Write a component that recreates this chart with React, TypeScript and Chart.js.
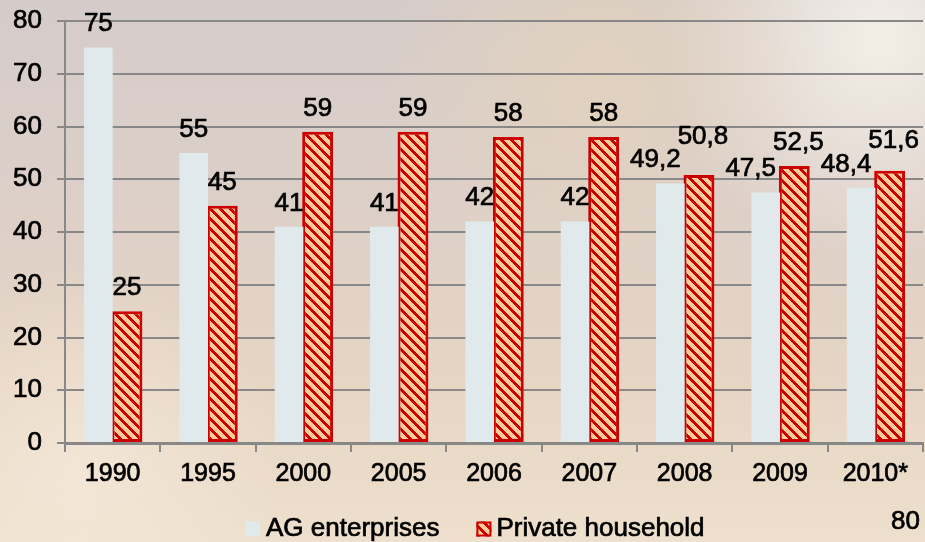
import React, { useEffect, useRef } from "react";
import { Chart, registerables } from "chart.js";

Chart.register(...registerables);

const categories = ["1990", "1995", "2000", "2005", "2006", "2007", "2008", "2009", "2010*"];
const agEnterprises = [75, 55, 41, 41, 42, 42, 49.2, 47.5, 48.4];
const privateHousehold = [25, 45, 59, 59, 58, 58, 50.8, 52.5, 51.6];
const seriesNames = ["AG enterprises", "Private household"];
const yMin = 0;
const yMax = 80;
const yStep = 10;
const slideNumber = "80";

const FONT = "'Liberation Sans', Arial, sans-serif";
const AG_COLOR = "#E0EAEC";
const RED = "#CC0000";
const PEACH = "#FFCC99";
const GRID = "#888888";
const STROKE = 0.7;

function makePattern(ctx: CanvasRenderingContext2D): CanvasPattern | string {
  const c = document.createElement("canvas");
  const n = 10;
  c.width = n;
  c.height = n;
  const pc = c.getContext("2d");
  if (!pc) return PEACH;
  const img = pc.createImageData(n, n);
  for (let y = 0; y < n; y++) {
    for (let x = 0; x < n; x++) {
      const k = (((x - y) % n) + n) % n;
      const red = k < 4;
      const idx = (y * n + x) * 4;
      img.data[idx] = red ? 204 : 255;
      img.data[idx + 1] = red ? 0 : 204;
      img.data[idx + 2] = red ? 0 : 153;
      img.data[idx + 3] = 255;
    }
  }
  pc.putImageData(img, 0, 0);
  return ctx.createPattern(c, "repeat") || PEACH;
}

const fmt = (v: number) => String(v).replace(".", ",");

function drawText(ctx: CanvasRenderingContext2D, t: string, x: number, y: number) {
  ctx.strokeText(t, x, y);
  ctx.fillText(t, x, y);
}

export default function App() {
  const ref = useRef<HTMLCanvasElement | null>(null);

  useEffect(() => {
    const canvas = ref.current;
    if (!canvas) return;
    const ctx0 = canvas.getContext("2d");
    if (!ctx0) return;
    const pattern = makePattern(ctx0);

    const bgPlugin = {
      id: "bg",
      beforeDraw(chart: any) {
        const { ctx, width, height } = chart;
        ctx.save();
        const g = ctx.createLinearGradient(0, 0, 0, height);
        g.addColorStop(0, "#D5CCCA");
        g.addColorStop(0.35, "#DCCFC8");
        g.addColorStop(0.7, "#E6D5C3");
        g.addColorStop(1, "#EEE0CD");
        ctx.fillStyle = g;
        ctx.fillRect(0, 0, width, height);
        const r1 = ctx.createRadialGradient(880, 40, 10, 880, 40, 220);
        r1.addColorStop(0, "rgba(252,248,240,0.75)");
        r1.addColorStop(1, "rgba(252,248,240,0)");
        ctx.fillStyle = r1;
        ctx.fillRect(0, 0, width, height);
        const r2 = ctx.createRadialGradient(600, 70, 10, 600, 70, 220);
        r2.addColorStop(0, "rgba(236,214,178,0.45)");
        r2.addColorStop(1, "rgba(236,214,178,0)");
        ctx.fillStyle = r2;
        ctx.fillRect(0, 0, width, height);
        const r3 = ctx.createRadialGradient(80, 470, 10, 80, 470, 200);
        r3.addColorStop(0, "rgba(248,236,222,0.6)");
        r3.addColorStop(1, "rgba(248,236,222,0)");
        ctx.fillStyle = r3;
        ctx.fillRect(0, 0, width, height);
        ctx.restore();
      },
    };

    const labelPlugin = {
      id: "labels",
      afterDatasetsDraw(chart: any) {
        const { ctx } = chart;
        const m0 = chart.getDatasetMeta(0);
        const m1 = chart.getDatasetMeta(1);
        const size = 26;
        const capH = size * 0.716;
        ctx.save();
        ctx.font = `${size}px ${FONT}`;
        ctx.fillStyle = "#000";
        ctx.strokeStyle = "#000";
        ctx.lineWidth = STROKE;
        ctx.textAlign = "center";
        ctx.textBaseline = "alphabetic";
        for (let i = 0; i < categories.length; i++) {
          const a = m0.data[i];
          const p = m1.data[i];
          const ta = fmt(agEnterprises[i]);
          const tp = fmt(privateHousehold[i]);
          const wa = ctx.measureText(ta).width;
          const wp = ctx.measureText(tp).width;
          let xa = a.x;
          let ya = a.y - 16;
          let xp = p.x;
          let yp = p.y - 16;
          const hOverlap = xa + wa / 2 - (xp - wp / 2);
          let vGap: number;
          if (yp < ya) vGap = ya - capH - yp;
          else vGap = yp - capH - ya;
          if (hOverlap > 0 && vGap < 12) {
            xa -= 15;
            xp += 4;
            if (vGap < 4) {
              if (yp < ya) yp = ya - capH - 5;
              else ya = yp - capH - 5;
            }
          }
          drawText(ctx, ta, xa, ya);
          drawText(ctx, tp, xp, yp);
        }
        ctx.restore();
      },
      afterDraw(chart: any) {
        const { ctx, width } = chart;
        ctx.save();
        ctx.font = `26px ${FONT}`;
        ctx.fillStyle = "#000";
        ctx.strokeStyle = "#000";
        ctx.lineWidth = STROKE;
        ctx.textBaseline = "middle";
        ctx.textAlign = "left";
        const cy = 529;
        const box = 15;
        let x = 245;
        ctx.fillStyle = AG_COLOR;
        ctx.fillRect(x, cy - box / 2, box, box);
        ctx.fillStyle = "#000";
        x += box + 6;
        drawText(ctx, seriesNames[0], x, cy);
        x += ctx.measureText(seriesNames[0]).width + 37;
        ctx.fillStyle = pattern;
        ctx.fillRect(x, cy - box / 2, box, box);
        ctx.strokeStyle = RED;
        ctx.lineWidth = 2;
        ctx.strokeRect(x + 1, cy - box / 2 + 1, box - 2, box - 2);
        ctx.fillStyle = "#000";
        ctx.strokeStyle = "#000";
        ctx.lineWidth = STROKE;
        x += box + 5;
        drawText(ctx, seriesNames[1], x, cy);
        ctx.textAlign = "right";
        drawText(ctx, slideNumber, width - 5, 522);
        ctx.restore();
      },
    };

    const chart = new Chart(canvas, {
      type: "bar",
      data: {
        labels: categories,
        datasets: [
          {
            label: seriesNames[0],
            data: agEnterprises,
            backgroundColor: AG_COLOR,
            borderWidth: 0,
            categoryPercentage: 0.6,
            barPercentage: 1,
          },
          {
            label: seriesNames[1],
            data: privateHousehold,
            backgroundColor: pattern as any,
            borderColor: RED,
            borderWidth: 3,
            borderSkipped: false,
            categoryPercentage: 0.6,
            barPercentage: 1.08,
          },
        ],
      },
      options: {
        responsive: false,
        animation: false,
        devicePixelRatio: 1,
        layout: { padding: { top: 21, right: 2, left: 0, bottom: 0 } },
        plugins: {
          legend: { display: false },
          tooltip: { enabled: false },
        },
        scales: {
          x: {
            offset: true,
            grid: {
              display: true,
              offset: true,
              drawOnChartArea: false,
              drawTicks: true,
              tickLength: 9,
              color: GRID,
              lineWidth: 2,
            },
            border: { display: true, color: GRID, width: 3 },
            ticks: {
              font: { family: FONT, size: 25 },
              color: "#000",
              textStrokeColor: "#000",
              textStrokeWidth: STROKE,
              padding: 7,
              maxRotation: 0,
              autoSkip: false,
            },
            afterFit: (s: any) => {
              s.height = 99;
              s.paddingLeft = 0;
              s.paddingRight = 0;
            },
          },
          y: {
            min: yMin,
            max: yMax,
            ticks: {
              stepSize: yStep,
              font: { family: FONT, size: 26 },
              color: "#000",
              textStrokeColor: "#000",
              textStrokeWidth: STROKE,
              padding: 15,
            },
            grid: {
              color: GRID,
              lineWidth: 2,
              tickLength: 8,
              drawTicks: true,
            },
            border: { display: true, color: GRID, width: 2 },
            afterFit: (s: any) => {
              s.width = 65;
              s.paddingTop = 0;
              s.paddingBottom = 0;
            },
          },
        },
      },
      plugins: [bgPlugin, labelPlugin],
    });

    return () => chart.destroy();
  }, []);

  return (
    <div style={{ width: 925, height: 542 }}>
      <style>{`body{margin:0}`}</style>
      <canvas ref={ref} width={925} height={542} style={{ display: "block" }} />
    </div>
  );
}
